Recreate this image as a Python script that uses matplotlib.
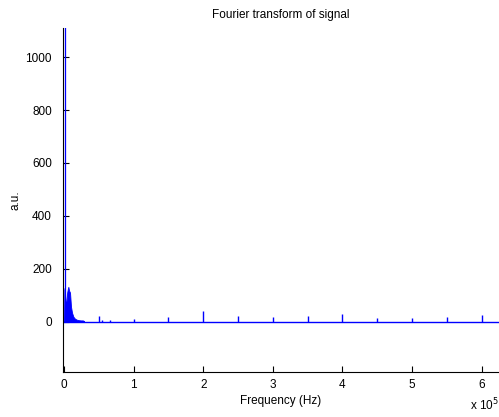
import matplotlib
matplotlib.use("Agg")
import matplotlib.pyplot as plt

# Low-frequency cluster envelope (Hz, a.u.)
cluster_freq = [0, 500, 1000, 1800, 2600, 3500, 4500, 5500, 6200, 7200, 8600, 10000, 11500, 13400, 15500, 18000, 21000, 24000, 27000, 28500, 29000]
cluster_amp = [0, 120, 128, 95, 64, 75, 110, 125, 132, 118, 110, 57, 34, 19, 12, 8, 6, 5, 5, 3, 0]

# DC component (clipped) and isolated spikes
dc_freq = 0
dc_amp = 4000
spike_freq = [5.0e4, 5.5e4, 6.6e4, 1.0e5, 1.5e5, 2.0e5, 2.5e5, 3.0e5, 3.5e5, 4.0e5, 4.5e5, 5.0e5, 5.5e5, 6.0e5]
spike_amp = [23, 7, 6, 12, 18, 42, 22, 18, 22, 30, 13, 13, 18, 26]

baseline_freq = [0, 6.25e5]
baseline_amp = [0, 0]

xticks = [0, 1e5, 2e5, 3e5, 4e5, 5e5, 6e5]
xticklabels = ["0", "1", "2", "3", "4", "5", "6"]
yticks = [0, 200, 400, 600, 800, 1000]

plt.rcParams['font.family'] = ['Liberation Sans', 'DejaVu Sans']
fs = 8.5

fig = plt.figure(figsize=(4.99, 4.17), dpi=100)
ax = fig.add_axes([63/499, 1-372/417, (499-63)/499, (372-28)/417])

blue = (0, 0, 1)
ax.plot(baseline_freq, baseline_amp, color=blue, lw=1.0)
ax.fill_between(cluster_freq, 0, cluster_amp, color=blue, lw=0.6)
ax.vlines([dc_freq + 1200], 0, dc_amp, color=blue, lw=0.9)
ax.vlines(spike_freq, 0, spike_amp, color=blue, lw=1.0)

ax.set_xlim(-1500, 6.25e5)
ax.set_ylim(-190, 1110)
ax.set_xticks(xticks)
ax.set_xticklabels(xticklabels)
ax.set_yticks(yticks)
ax.tick_params(direction='in', length=4, labelsize=fs, width=0.8)
ax.tick_params(axis='y', pad=8)
ax.tick_params(axis='x', pad=5)
for s in ['top', 'right']:
    ax.spines[s].set_visible(False)
for s in ['left', 'bottom']:
    ax.spines[s].set_linewidth(0.8)

ax.set_title("Fourier transform of signal", fontsize=fs, pad=7.5)
ax.set_xlabel("Frequency (Hz)", fontsize=fs, labelpad=3)
ax.set_ylabel("a.u.", fontsize=fs)
ax.yaxis.set_label_coords((22 - 63) / 436, 0.5)
fig.text(470/499, 1-405/417, r"x 10$^5$", fontsize=fs, va='center', ha='left')

fig.savefig("out.png", dpi=100)
